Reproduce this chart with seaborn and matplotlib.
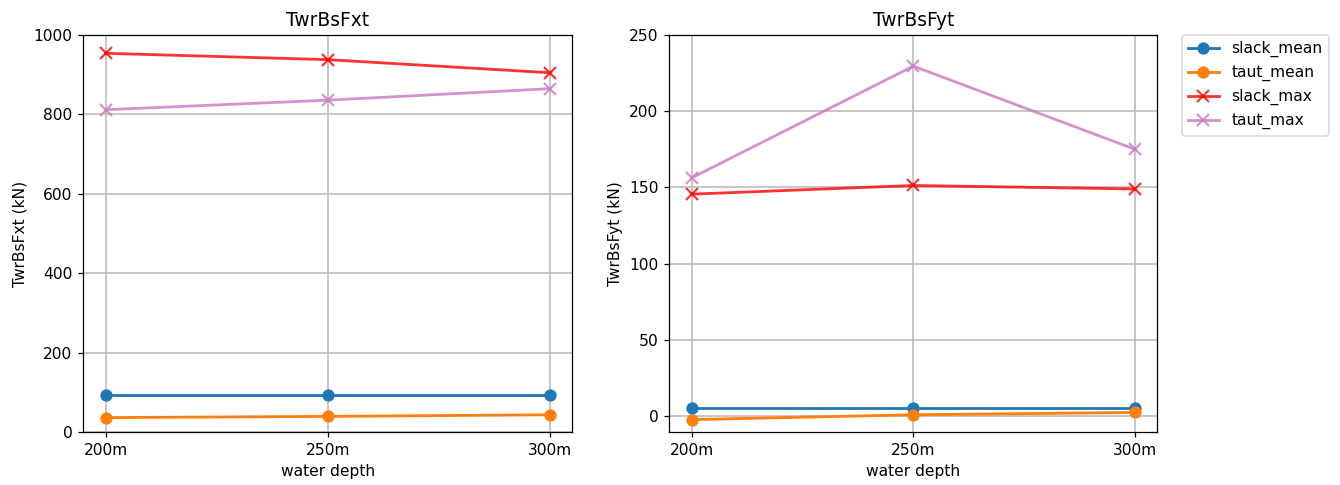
import numpy as np
import pandas as pd
import matplotlib
matplotlib.use("Agg")
import matplotlib.pyplot as plt
import seaborn as sns

# water depths (categorical x axis)
depths = ["200m", "250m", "300m"]

# tower base shear force Fx (kN)
fxt_slack_mean = [94, 94, 94]
fxt_taut_mean = [37, 40, 44]
fxt_slack_max = [954, 938, 905]
fxt_taut_max = [812, 836, 865]

# tower base shear force Fy (kN)
fyt_slack_mean = [5.4, 5.4, 5.4]
fyt_taut_mean = [-2.3, 0.9, 2.4]
fyt_slack_max = [145.6, 151.3, 149.0]
fyt_taut_max = [156.3, 229.6, 175.0]

series_names = ["slack_mean", "taut_mean", "slack_max", "taut_max"]
series_colors = ["tab:blue", "tab:orange", "red", "#cc7fc4"]
series_markers = ["o", "o", "x", "x"]
series_msize = [6.5, 6.5, 7.5, 7.5]
series_alpha = [1.0, 1.0, 0.8, 0.85]

DPI = 112
fig = plt.figure(figsize=(1340 / DPI, 485 / DPI), dpi=DPI)
ax1 = fig.add_axes([0.0622, 0.1087, 0.3649, 0.8191])
ax2 = fig.add_axes([0.4996, 0.1087, 0.3640, 0.8191])

panels = [
    (ax1, "TwrBsFxt", [fxt_slack_mean, fxt_taut_mean, fxt_slack_max, fxt_taut_max]),
    (ax2, "TwrBsFyt", [fyt_slack_mean, fyt_taut_mean, fyt_slack_max, fyt_taut_max]),
]

for ax, name, values in panels:
    for vals, lab, col, mk, ms, al in zip(values, series_names, series_colors,
                                          series_markers, series_msize, series_alpha):
        sns.lineplot(x=depths, y=vals, ax=ax, color=col, marker=mk, alpha=al,
                     markeredgecolor=col, markersize=ms, markeredgewidth=1.4,
                     linewidth=1.8, label=lab, sort=False, legend=False)
    ax.set_title(name, fontsize=12)
    ax.set_xlabel("water depth")
    ax.set_ylabel(f"{name} (kN)")
    ax.grid(True, color="#b8b8b8", linewidth=1.0)
    ax.set_axisbelow(True)

ax1.set_ylim(0, 1000)
ax2.set_ylim(-10.6, 250)

handles, labels = ax2.get_legend_handles_labels()
ax2.legend(handles, labels, loc="upper left", bbox_to_anchor=(1.05, 1.0),
           borderaxespad=0.0)

fig.savefig("out.png", dpi=DPI)
